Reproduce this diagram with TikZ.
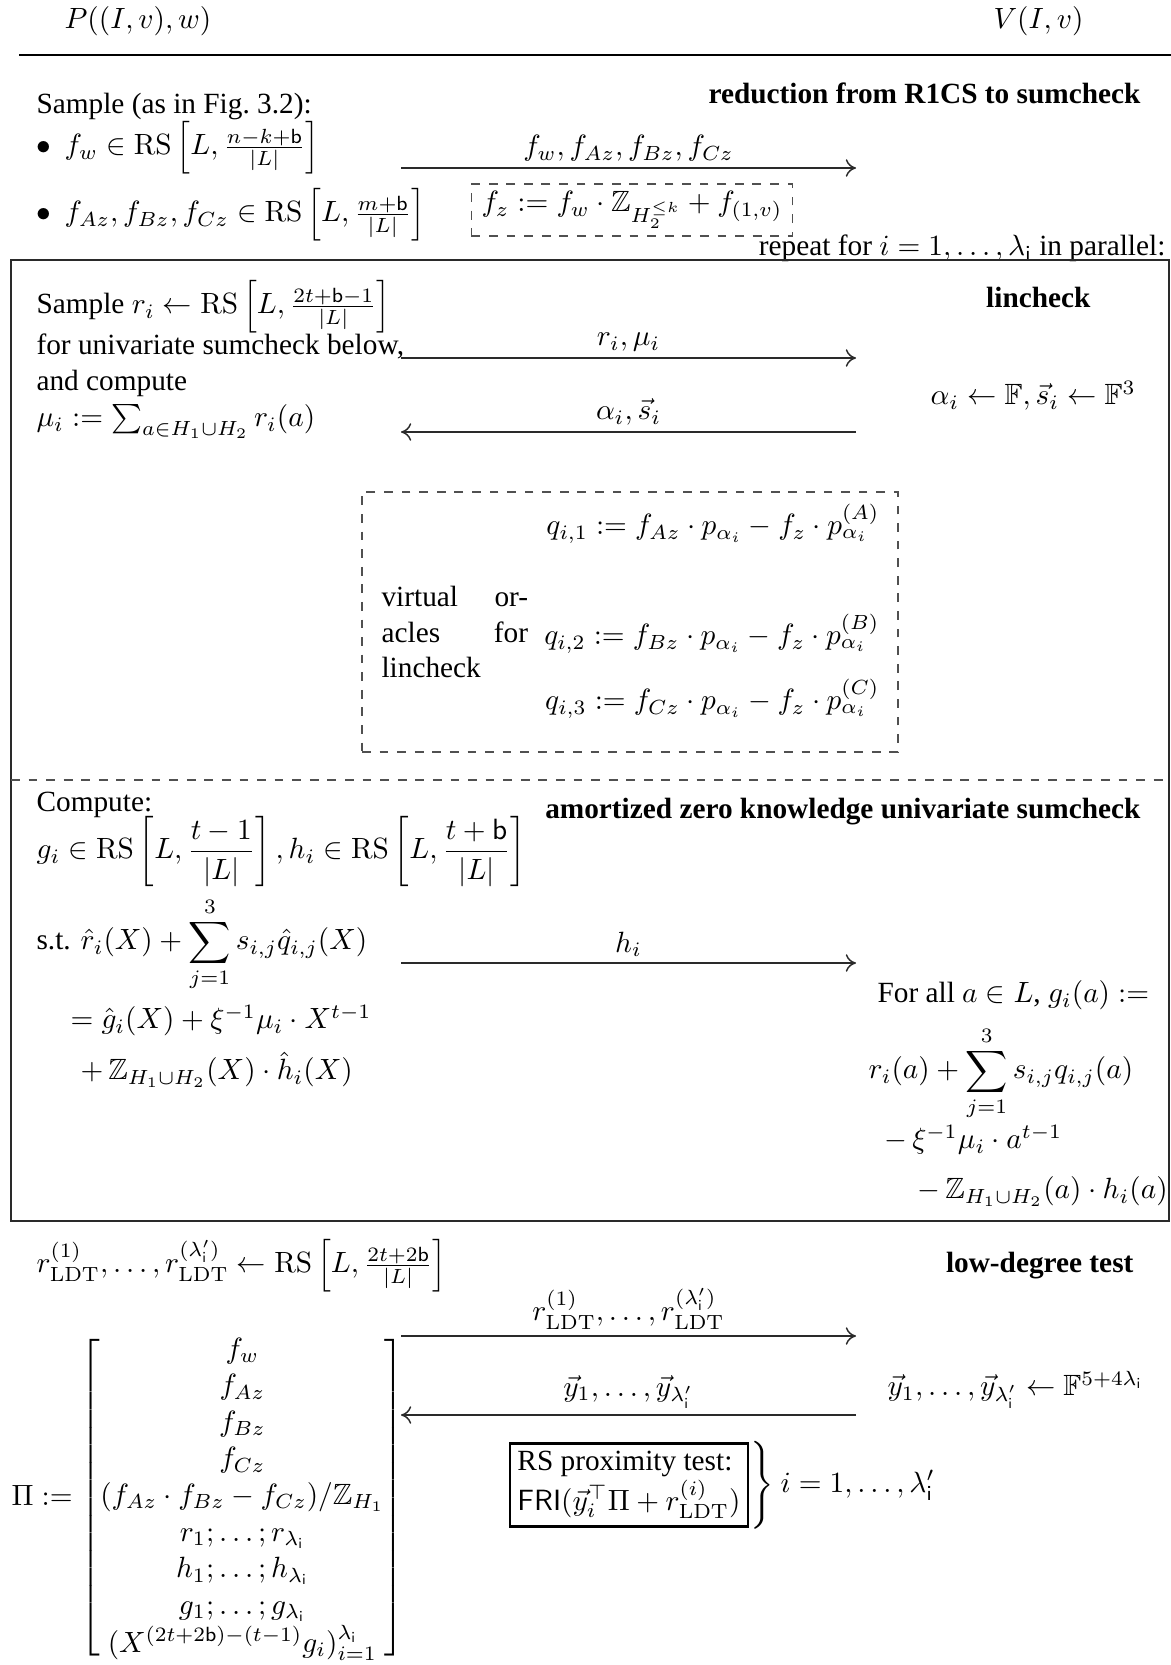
\documentclass[tikz,border=0pt]{standalone}
\usepackage[no-math]{fontspec}
\setmainfont{Liberation Serif}
\usepackage{amsmath,amssymb}
\usetikzlibrary{arrows.meta, positioning}
\definecolor{cLine}{HTML}{2A2A2A}
\definecolor{cDash}{HTML}{505050}
\tikzset{
  txt/.style={anchor=base west, inner sep=0pt, yshift=-1pt},
  txtr/.style={anchor=base east, inner sep=0pt, yshift=-1pt},
  hdr/.style={anchor=base east, inner sep=0pt, yshift=-1pt, font=\bfseries},
  msg/.style={-{To[length=3.5pt,width=6pt]}, line width=0.5pt, color=cLine},
  lbl/.style={above, inner sep=2pt, text=black},
  dashbox/.style={draw=cDash, dashed, line width=0.5pt},
  frame/.style={draw=cLine, line width=0.5pt},
  proofbox/.style={draw=black, line width=0.8pt, inner sep=2.6pt, align=left},
}
\newcommand{\itembul}{$\bullet$\hspace{4.6pt}}

\begin{document}
\begin{tikzpicture}[x=0.3413pt, y=-0.3413pt]
  \useasboundingbox (0,0) rectangle (1171,1665);

  % Parties
  \node[txt] (prover) at (64,26) {$P((I,v),w)$};
  \node[txt] (verifier) at (993,26) {$V(I,v)$};
  \coordinate (ruleL) at (19,55);
  \coordinate (ruleR) at (1171,55);
  \draw[line width=1pt] (ruleL) -- (ruleR);

  % Reduction from R1CS to sumcheck
  \node[hdr] (hdrRed) at (1141,101) {reduction from R1CS to sumcheck};
  \node[txt] (sampleW) at (36,111) {Sample (as in Fig.~3.2):};
  \node[txt] (bulW) at (36,152) {\itembul$f_w \in \mathrm{RS}\left[L, \frac{n-k+\mathsf{b}}{|L|}\right]$};
  \node[txt] (bulABC) at (36,219) {\itembul$f_{Az}, f_{Bz}, f_{Cz} \in \mathrm{RS}\left[L, \frac{m+\mathsf{b}}{|L|}\right]$};
  \coordinate (a1s) at (401,168);
  \coordinate (a1e) at (856,168);
  \draw[msg] (a1s) -- node[lbl] {$f_w, f_{Az}, f_{Bz}, f_{Cz}$} (a1e);
  \node[dashbox, minimum width=109.6pt, minimum height=17.7pt, inner sep=2pt]
    (fz) at (632,210) {$f_z := f_w \cdot \mathbb{Z}_{H_2^{\leq k}} + f_{(1,v)}$};
  \node[txtr] (repeat) at (1166,253) {repeat for $i = 1, \ldots, \lambda_{\mathsf{i}}$ in parallel:};

  % Parallel repetition frame
  \coordinate (boxTL) at (11,260);
  \coordinate (boxBR) at (1169,1221);
  \draw[frame] (boxTL) rectangle (boxBR);

  % Lincheck
  \node[hdr] (hdrLin) at (1091,305) {lincheck};
  \node[txt] (sampleR) at (36,311) {Sample $r_i \leftarrow \mathrm{RS}\left[L, \frac{2t+\mathsf{b}-1}{|L|}\right]$};
  \node[txt] (forUni) at (36,352) {for univariate sumcheck below,};
  \node[txt] (andComp) at (36,388) {and compute};
  \node[txt] (muDef) at (36,424) {$\mu_i := \sum_{a\in H_1\cup H_2} r_i(a)$};
  \node[txt] (chal) at (930,402) {$\alpha_i \leftarrow \mathbb{F}, \vec{s}_i \leftarrow \mathbb{F}^3$};
  \coordinate (a2s) at (401,358);
  \coordinate (a2e) at (856,358);
  \draw[msg] (a2s) -- node[lbl] {$r_i, \mu_i$} (a2e);
  \coordinate (a3s) at (856,432);
  \coordinate (a3e) at (401,432);
  \draw[msg] (a3s) -- node[lbl] {$\alpha_i, \vec{s}_i$} (a3e);

  \node[dashbox, minimum width=182.9pt, minimum height=88.7pt] (oracles) at (630,622) {};
  \node[txt, text width=50pt, align=left] (virt) at (381,604)
    {virtual\hfill or-\\acles\hfill for\\lincheck};
  \node[txtr] (q1) at (880,532) {$q_{i,1} := f_{Az}\cdot p_{\alpha_i} - f_z \cdot p^{(A)}_{\alpha_i}$};
  \node[txtr] (q2) at (880,642) {$q_{i,2} := f_{Bz}\cdot p_{\alpha_i} - f_z \cdot p^{(B)}_{\alpha_i}$};
  \node[txtr] (q3) at (880,707) {$q_{i,3} := f_{Cz}\cdot p_{\alpha_i} - f_z \cdot p^{(C)}_{\alpha_i}$};

  % Amortized zero knowledge univariate sumcheck
  \coordinate (sepL) at (11,780);
  \coordinate (sepR) at (1169,780);
  \draw[dashbox] (sepL) -- (sepR);
  \node[hdr] (hdrSum) at (1141,816) {amortized zero knowledge univariate sumcheck};
  \node[txt] (compute) at (36,809) {Compute:};
  \node[txt] (gh) at (36,856) {$\displaystyle g_i \in \mathrm{RS}\left[L, \frac{t-1}{|L|}\right], h_i \in \mathrm{RS}\left[L, \frac{t+\mathsf{b}}{|L|}\right]$};
  \node[txt] (st) at (36,947) {s.t. $\displaystyle \hat{r}_i(X) + \sum_{j=1}^{3} s_{i,j}\hat{q}_{i,j}(X)$};
  \node[txt] (eqG) at (70,1026) {$= \hat{g}_i(X) + \xi^{-1}\mu_i \cdot X^{t-1}$};
  \node[txt] (eqH) at (80,1077) {$+\, \mathbb{Z}_{H_1\cup H_2}(X)\cdot \hat{h}_i(X)$};
  \coordinate (a4s) at (401,963);
  \coordinate (a4e) at (856,963);
  \draw[msg] (a4s) -- node[lbl] {$h_i$} (a4e);
  \node[txt] (forAll) at (877,1000) {For all $a \in L$, $g_i(a) :=$};
  \node[txt] (vr1) at (868,1076) {$\displaystyle r_i(a) + \sum_{j=1}^{3} s_{i,j} q_{i,j}(a)$};
  \node[txt] (vr2) at (884,1146) {$-\,\xi^{-1}\mu_i \cdot a^{t-1}$};
  \node[txt] (vr3) at (917,1196) {$-\,\mathbb{Z}_{H_1\cup H_2}(a)\cdot h_i(a)$};

  % Low-degree test
  \node[hdr] (hdrLdt) at (1134,1270) {low-degree test};
  \node[txt] (ldt) at (36,1270) {$r^{(1)}_{\mathrm{LDT}}, \ldots, r^{(\lambda'_{\mathsf{i}})}_{\mathrm{LDT}} \leftarrow \mathrm{RS}\left[L, \frac{2t+2\mathsf{b}}{|L|}\right]$};
  \coordinate (a5s) at (401,1336);
  \coordinate (a5e) at (856,1336);
  \draw[msg] (a5s) -- node[lbl] {$r^{(1)}_{\mathrm{LDT}}, \ldots, r^{(\lambda'_{\mathsf{i}})}_{\mathrm{LDT}}$} (a5e);
  \coordinate (a6s) at (856,1415);
  \coordinate (a6e) at (401,1415);
  \draw[msg] (a6s) -- node[lbl] {$\vec{y}_1, \ldots, \vec{y}_{\lambda'_{\mathsf{i}}}$} (a6e);
  \node[txt] (yvec) at (887,1393) {$\vec{y}_1, \ldots, \vec{y}_{\lambda'_{\mathsf{i}}} \leftarrow \mathbb{F}^{5+4\lambda_{\mathsf{i}}}$};

  \node[anchor=west, inner sep=0pt] (piMat) at (11,1498) {\def\arraystretch{1.04}$\Pi := \begin{bmatrix}
      f_w\\ f_{Az}\\ f_{Bz}\\ f_{Cz}\\
      (f_{Az}\cdot f_{Bz} - f_{Cz})/\mathbb{Z}_{H_1}\\
      r_1; \ldots; r_{\lambda_{\mathsf{i}}}\\
      h_1; \ldots; h_{\lambda_{\mathsf{i}}}\\
      g_1; \ldots; g_{\lambda_{\mathsf{i}}}\\
      (X^{(2t+2\mathsf{b})-(t-1)} g_i)_{i=1}^{\lambda_{\mathsf{i}}}
    \end{bmatrix}$};

  \node[proofbox] (rsTest) at (629,1485)
    {RS proximity test:\\ $\mathsf{FRI}(\vec{y}_i^{\top}\Pi + r^{(i)}_{\mathrm{LDT}})$};
  \node[right=-1pt of rsTest, inner sep=0pt] (rsRange)
    {$\left.\vrule height 12.5pt depth 11pt width 0pt\right\}\mkern1mu i = 1, \ldots, \lambda'_{\mathsf{i}}$};

\end{tikzpicture}
\end{document}
